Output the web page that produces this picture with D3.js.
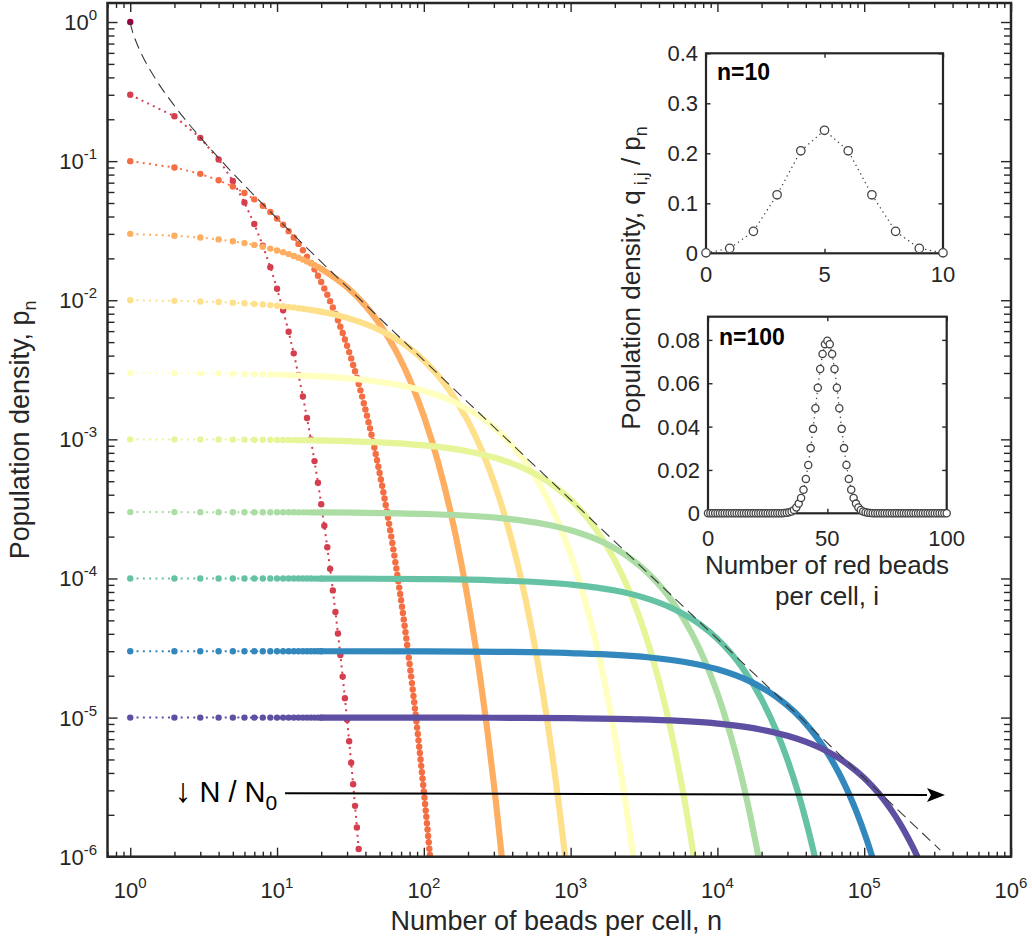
<!DOCTYPE html>
<html>
<head>
<meta charset="utf-8">
<script src="https://cdn.jsdelivr.net/npm/d3@7"></script>
<style>
  html, body { margin: 0; padding: 0; background: #fff; }
  svg { display: block; font-family: "Liberation Sans", Arial, Helvetica, sans-serif; }
</style>
</head>
<body>
<svg id="chart" width="1032" height="943"></svg>
<script>
// ---------------------------------------------------------------
// Geometric size distributions p_n for a series of starting
// densities N/N0, with two binomial colour-split insets.
// ---------------------------------------------------------------

// p_n at n = 1, 2, 3, ... (individual beads)
const beads1    = [1];
const beads3em1 = [0.3, 0.21, 0.147, 0.1029, 0.07203, 0.05042, 0.03529, 0.02471, 0.01729, 0.01211,
  0.008474, 0.005932, 0.004152, 0.002907, 0.002035, 0.001424, 9.970e-4, 6.979e-4, 4.885e-4, 3.420e-4,
  2.394e-4, 1.676e-4, 1.173e-4, 8.211e-5, 5.748e-5, 4.023e-5, 2.816e-5, 1.971e-5, 1.380e-5, 9.661e-6,
  6.763e-6, 4.734e-6, 3.314e-6, 2.320e-6, 1.624e-6, 1.137e-6];
const beads1em1 = [0.1, 0.09, 0.081, 0.0729, 0.06561, 0.05905, 0.05314, 0.04783, 0.04305, 0.03874,
  0.03487, 0.03138, 0.02824, 0.02542, 0.02288, 0.02059, 0.01853, 0.01668, 0.01501, 0.01351,
  0.01216, 0.01094, 0.00985, 0.00886, 0.00798, 0.00718, 0.00646, 0.00581, 0.00523, 0.00471,
  0.00424, 0.00382, 0.00343, 0.00309, 0.00278, 0.00250, 0.00225, 0.00203, 0.00182, 0.00164,
  0.00148, 0.00133, 0.00120, 0.00108, 9.70e-4, 8.73e-4, 7.86e-4, 7.07e-4, 6.36e-4, 5.73e-4,
  5.15e-4, 4.64e-4, 4.17e-4, 3.76e-4, 3.38e-4, 3.04e-4, 2.74e-4, 2.47e-4, 2.22e-4, 2.00e-4,
  1.80e-4, 1.62e-4, 1.46e-4, 1.31e-4, 1.18e-4, 1.06e-4, 9.56e-5, 8.60e-5, 7.74e-5, 6.97e-5,
  6.27e-5, 5.64e-5, 5.08e-5, 4.57e-5, 4.11e-5, 3.70e-5, 3.33e-5, 3.00e-5, 2.70e-5, 2.43e-5,
  2.18e-5, 1.97e-5, 1.77e-5, 1.59e-5, 1.43e-5, 1.29e-5, 1.16e-5, 1.05e-5, 9.41e-6, 8.47e-6,
  7.62e-6, 6.86e-6, 6.17e-6, 5.56e-6, 5.00e-6, 4.50e-6, 4.05e-6, 3.65e-6, 3.28e-6, 2.95e-6,
  2.66e-6, 2.39e-6, 2.15e-6, 1.94e-6, 1.74e-6, 1.57e-6, 1.41e-6, 1.27e-6, 1.14e-6, 1.03e-6];
const beads3em2 = [0.03, 0.0291, 0.02823, 0.02738, 0.02656, 0.02576, 0.02499, 0.02424, 0.02351, 0.02281,
  0.02212, 0.02146, 0.02082, 0.02019, 0.01959, 0.01900, 0.01843, 0.01788, 0.01734, 0.01682];
const beads1em2 = [0.01, 0.0099, 0.009801, 0.009703, 0.009606, 0.00951, 0.009415, 0.009321, 0.009227, 0.009135,
  0.009044, 0.008953, 0.008864, 0.008775, 0.008687, 0.0086, 0.008515, 0.00843, 0.008345, 0.008262];
const beads3em3 = [0.003, 0.002991, 0.002982, 0.002973, 0.002964, 0.002955, 0.002946, 0.002937, 0.002929, 0.00292,
  0.002911, 0.002902, 0.002894, 0.002885, 0.002876, 0.002868, 0.002859, 0.002851, 0.002842, 0.002834];
const beads1em3 = [1.000e-3, 9.99e-4, 9.98e-4, 9.97e-4, 9.96e-4, 9.95e-4, 9.94e-4, 9.93e-4, 9.92e-4, 9.91e-4,
  9.90e-4, 9.89e-4, 9.88e-4, 9.87e-4, 9.86e-4, 9.85e-4, 9.84e-4, 9.83e-4, 9.82e-4, 9.81e-4];
const beads3em4 = [3.000e-4, 2.999e-4, 2.998e-4, 2.997e-4, 2.996e-4, 2.996e-4, 2.995e-4, 2.994e-4, 2.993e-4, 2.992e-4,
  2.991e-4, 2.990e-4, 2.989e-4, 2.988e-4, 2.987e-4, 2.987e-4, 2.986e-4, 2.985e-4, 2.984e-4, 2.983e-4];
const beads1em4 = [1.000e-4, 9.999e-5, 9.998e-5, 9.997e-5, 9.996e-5, 9.995e-5, 9.994e-5, 9.993e-5, 9.992e-5, 9.991e-5,
  9.990e-5, 9.989e-5, 9.988e-5, 9.987e-5, 9.986e-5, 9.985e-5, 9.984e-5, 9.983e-5, 9.982e-5, 9.981e-5];
const beads3em5 = [3.000e-5, 3.000e-5, 3.000e-5, 2.999e-5, 2.999e-5, 2.999e-5, 2.999e-5, 2.999e-5, 2.999e-5, 2.999e-5,
  2.999e-5, 2.999e-5, 2.999e-5, 2.999e-5, 2.999e-5, 2.998e-5, 2.998e-5, 2.998e-5, 2.998e-5, 2.998e-5];
const beads1em5 = [1e-5, 1e-5, 1e-5, 1e-5, 1e-5, 1e-5, 1e-5, 1e-5, 1e-5, 1e-5,
  1e-5, 1e-5, 1e-5, 1e-5, 1e-5, 1e-5, 1e-5, 1e-5, 1e-5, 1e-5];

// Dense part of each distribution, where the beads merge into a band: [n, p_n]
const tail3em2 = [[20, 0.01682], [30, 0.01240], [40, 0.009146], [50, 0.006744], [65, 0.004271], [80, 0.002705],
  [100, 0.001471], [125, 6.868e-4], [150, 3.207e-4], [180, 1.286e-4], [210, 5.157e-5], [240, 2.068e-5],
  [270, 8.293e-6], [300, 3.326e-6], [320, 1.809e-6], [339, 1.014e-6]];
const tail1em2 = [[20, 0.008262], [30.85, 0.007408], [50.75, 0.006065], [75.6, 0.004724], [100.5, 0.003679],
  [150.3, 0.002231], [200, 0.001353], [249.8, 8.209e-4], [299.5, 4.979e-4], [349.3, 3.020e-4], [399, 1.832e-4],
  [448.8, 1.111e-4], [498.5, 6.738e-5], [548.3, 4.087e-5], [598, 2.479e-5], [647.8, 1.503e-5], [697.5, 9.119e-6],
  [747.3, 5.531e-6], [797, 3.355e-6], [846.8, 2.035e-6], [896.5, 1.234e-6], [917, 1.004e-6]];
const tail3em3 = [[20, 0.002834], [34.3, 0.002715], [67.6, 0.002456], [100.9, 0.002223], [167.4, 0.001820],
  [250.6, 0.001417], [333.8, 0.001104], [500.2, 6.694e-4], [666.7, 4.060e-4], [833.1, 2.463e-4], [999.5, 1.494e-4],
  [1166, 9.059e-5], [1332, 5.495e-5], [1499, 3.333e-5], [1665, 2.021e-5], [1832, 1.226e-5], [1998, 7.436e-6],
  [2164, 4.510e-6], [2331, 2.736e-6], [2497, 1.659e-6], [2664, 1.006e-6]];
const tail1em3 = [[20, 9.812e-4], [31, 9.705e-4], [101, 9.048e-4], [200.9, 8.187e-4], [300.9, 7.408e-4],
  [500.8, 6.065e-4], [750.6, 4.724e-4], [1000.5, 3.679e-4], [1500, 2.231e-4], [2000, 1.353e-4], [2500, 8.209e-5],
  [3000, 4.979e-5], [3499, 3.020e-5], [3999, 1.832e-5], [4499, 1.111e-5], [4999, 6.738e-6], [5498, 4.087e-6],
  [5998, 2.479e-6], [6498, 1.503e-6], [6897, 1.008e-6]];
const tail3em4 = [[20, 2.983e-4], [34.3, 2.970e-4], [101, 2.911e-4], [334.3, 2.715e-4], [667.6, 2.456e-4],
  [1001, 2.223e-4], [1667, 1.820e-4], [2501, 1.417e-4], [3334, 1.104e-4], [5000, 6.694e-5], [6667, 4.060e-5],
  [8333, 2.463e-5], [9999, 1.494e-5], [11666, 9.059e-6], [13332, 5.495e-6], [14999, 3.333e-6], [16665, 2.021e-6],
  [18331, 1.226e-6], [18998, 1.004e-6]];
const tail1em4 = [[20, 9.981e-5], [31, 9.970e-5], [101, 9.900e-5], [301, 9.704e-5], [1001, 9.048e-5],
  [2001, 8.187e-5], [3001, 7.408e-5], [5001, 6.065e-5], [7501, 4.724e-5], [10000, 3.679e-5], [15000, 2.231e-5],
  [20000, 1.353e-5], [25000, 8.209e-6], [29999, 4.979e-6], [34999, 3.020e-6], [39999, 1.832e-6], [44999, 1.111e-6],
  [45999, 1.005e-6]];
const tail3em5 = [[20, 2.998e-5], [101, 2.991e-5], [334, 2.970e-5], [1001, 2.911e-5], [3334, 2.715e-5],
  [6668, 2.456e-5], [10001, 2.223e-5], [16667, 1.820e-5], [25001, 1.417e-5], [33334, 1.104e-5], [41667, 8.595e-6],
  [50000, 6.694e-6], [58334, 5.213e-6], [66667, 4.060e-6], [75000, 3.162e-6], [83333, 2.463e-6], [91666, 1.918e-6],
  [99999, 1.494e-6], [106666, 1.223e-6], [113332, 1.001e-6]];
const tail1em5 = [[20, 1e-5], [101, 9.990e-6], [301, 9.970e-6], [1001, 9.900e-6], [3001, 9.704e-6],
  [10001, 9.048e-6], [20001, 8.187e-6], [30001, 7.408e-6], [50001, 6.065e-6], [75001, 4.724e-6], [100000, 3.679e-6],
  [125000, 2.865e-6], [150000, 2.231e-6], [175000, 1.738e-6], [200000, 1.353e-6], [215000, 1.165e-6],
  [230000, 1.003e-6]];

// Upper envelope of all distributions: [n, p_n]
const envelope = [[1, 1], [1.02, 0.9062], [1.05, 0.8179], [1.1, 0.7153], [1.2, 0.5823], [1.5, 0.3849], [2, 0.25],
  [3, 0.1481], [4, 0.1055], [5, 0.08192], [7, 0.05665], [10, 0.03874], [15, 0.02538], [20, 0.01887],
  [30, 0.01247], [50, 0.007432], [100, 0.003697], [1000, 3.681e-4], [10000, 3.679e-5], [100000, 3.679e-6],
  [330000, 1.115e-6]];

// Inset distributions q_{i,j}/p_n over the number of red beads i
const insetSmallI = [0, 1, 2, 3, 4, 5, 6, 7, 8, 9, 10];
const insetSmallQ = [0.000977, 0.00977, 0.0439, 0.117, 0.205, 0.246, 0.205, 0.117, 0.0439, 0.00977, 0.000977];
const insetLargeQ = [0, 0, 0, 0, 0, 0, 0, 0, 0, 0,
  0, 0, 0, 0, 0, 0, 0, 0, 0, 0,
  0, 0, 0, 0, 0, 0, 0, 0, 0, 0,
  2.317e-5, 5.232e-5, 1.128e-4, 2.325e-4, 4.581e-4, 8.639e-4, 0.001560, 0.002698, 0.004473, 0.007111,
  0.01084, 0.01587, 0.02229, 0.03007, 0.03895, 0.04847, 0.05796, 0.06659, 0.07353, 0.07803,
  0.07959,
  0.07803, 0.07353, 0.06659, 0.05796, 0.04847, 0.03895, 0.03007, 0.02229, 0.01587, 0.01084,
  0.007111, 0.004473, 0.002698, 0.001560, 8.639e-4, 4.581e-4, 2.325e-4, 1.128e-4, 5.232e-5, 2.317e-5,
  0, 0, 0, 0, 0, 0, 0, 0, 0, 0,
  0, 0, 0, 0, 0, 0, 0, 0, 0, 0,
  0, 0, 0, 0, 0, 0, 0, 0, 0, 0];

// Tick values
const mainXDecades = [1, 10, 100, 1000, 10000, 100000, 1000000];
const mainYDecades = [1, 1e-1, 1e-2, 1e-3, 1e-4, 1e-5, 1e-6];
const insetSmallXTicks = [0, 5, 10];
const insetSmallYTicks = [0, 0.1, 0.2, 0.3, 0.4];
const insetLargeXTicks = [0, 50, 100];
const insetLargeYTicks = [0, 0.02, 0.04, 0.06, 0.08];

// ---------------------------------------------------------------
const INK = "#262626";
const svg = d3.select("#chart");

const series = [
  { beads: beads1,    tail: [] },
  { beads: beads3em1, tail: [] },
  { beads: beads1em1, tail: [] },
  { beads: beads3em2, tail: tail3em2 },
  { beads: beads1em2, tail: tail1em2 },
  { beads: beads3em3, tail: tail3em3 },
  { beads: beads1em3, tail: tail1em3 },
  { beads: beads3em4, tail: tail3em4 },
  { beads: beads1em4, tail: tail1em4 },
  { beads: beads3em5, tail: tail3em5 },
  { beads: beads1em5, tail: tail1em5 }
];
const palette = d3.schemeSpectral[11];

// Main panel
const P = { left: 107.5, right: 1011, top: 3, bottom: 856.7 };
const x = d3.scaleLog().domain([0.7, 1e6]).range([P.left, P.right]);
const y = d3.scaleLog().domain([1e-6, 1.37]).range([P.bottom, P.top]);

svg.append("defs").append("clipPath").attr("id", "mainClip")
  .append("rect").attr("x", P.left).attr("y", P.top)
  .attr("width", P.right - P.left).attr("height", P.bottom - P.top);

const plot = svg.append("g").attr("clip-path", "url(#mainClip)");

const straight = d3.line().x(d => x(d[0])).y(d => y(d[1]));
const smooth = d3.line().x(d => x(d[0])).y(d => y(d[1])).curve(d3.curveMonotoneX);

series.forEach((s, i) => {
  const c = palette[i];
  const g = plot.append("g");
  const beadPts = s.beads.map((v, k) => [k + 1, v]);
  if (beadPts.length > 1) {
    g.append("path").attr("d", straight(beadPts))
      .attr("fill", "none").attr("stroke", c).attr("stroke-width", 2)
      .attr("stroke-dasharray", "2,4.3");
  }
  if (s.tail.length) {
    g.append("path").attr("d", smooth(s.tail))
      .attr("fill", "none").attr("stroke", c).attr("stroke-width", 6.2)
      .attr("stroke-linecap", "round").attr("stroke-linejoin", "round");
  }
  g.selectAll("circle").data(beadPts).join("circle")
    .attr("cx", d => x(d[0])).attr("cy", d => y(d[1])).attr("r", 3.2)
    .attr("fill", c);
});

// envelope
plot.append("path").attr("d", smooth(envelope))
  .attr("fill", "none").attr("stroke", "#3a3a3a").attr("stroke-width", 1.1)
  .attr("stroke-dasharray", "11,6");

// ticks (inward, on all four sides)
function logTickSets(scale) {
  const all = scale.ticks().filter(v => v >= scale.domain()[0] * 0.999 && v <= scale.domain()[1] * 1.001);
  const isMajor = v => Math.abs(Math.log10(v) - Math.round(Math.log10(v))) < 1e-9;
  return { major: all.filter(isMajor), minor: all.filter(v => !isMajor(v)) };
}
function styleTicks(g) {
  g.select(".domain").remove();
  g.selectAll("line").attr("stroke", INK).attr("stroke-width", 1.4);
  g.selectAll("text").remove();
}
const xt = logTickSets(x), yt = logTickSets(y);
[[xt.major, 9], [xt.minor, 5]].forEach(([vals, len]) => {
  svg.append("g").attr("transform", `translate(0,${P.bottom})`)
    .call(d3.axisBottom(x).tickValues(vals).tickSizeInner(-len).tickSizeOuter(0)).call(styleTicks);
  svg.append("g").attr("transform", `translate(0,${P.top})`)
    .call(d3.axisTop(x).tickValues(vals).tickSizeInner(-len).tickSizeOuter(0)).call(styleTicks);
});
[[yt.major, 10], [yt.minor, 7]].forEach(([vals, len]) => {
  svg.append("g").attr("transform", `translate(${P.left},0)`)
    .call(d3.axisLeft(y).tickValues(vals).tickSizeInner(-len).tickSizeOuter(0)).call(styleTicks);
  svg.append("g").attr("transform", `translate(${P.right},0)`)
    .call(d3.axisRight(y).tickValues(vals).tickSizeInner(-len).tickSizeOuter(0)).call(styleTicks);
});

svg.append("rect").attr("x", P.left).attr("y", P.top)
  .attr("width", P.right - P.left).attr("height", P.bottom - P.top)
  .attr("fill", "none").attr("stroke", INK).attr("stroke-width", 2.5);

// tick labels as powers of ten
function powerLabel(sel, exp) {
  sel.append("tspan").text("10");
  sel.append("tspan").attr("dy", -10).attr("font-size", 15).text(String(exp));
}
mainXDecades.forEach(v => {
  const t = svg.append("text").attr("x", x(v)).attr("y", 898)
    .attr("text-anchor", "middle").attr("font-size", 22).attr("fill", INK);
  powerLabel(t, Math.round(Math.log10(v)));
});
mainYDecades.forEach(v => {
  const t = svg.append("text").attr("x", 97).attr("y", y(v) + 8)
    .attr("text-anchor", "end").attr("font-size", 22).attr("fill", INK);
  powerLabel(t, Math.round(Math.log10(v)));
});

// axis titles
svg.append("text").attr("x", (P.left + P.right) / 2 - 3).attr("y", 930)
  .attr("text-anchor", "middle").attr("font-size", 27).attr("fill", INK)
  .text("Number of beads per cell, n");
const yTitle = svg.append("text")
  .attr("transform", `translate(29,${(P.top + P.bottom) / 2}) rotate(-90)`)
  .attr("text-anchor", "middle").attr("font-size", 27).attr("fill", INK);
yTitle.append("tspan").text("Population density, p");
yTitle.append("tspan").attr("dy", 7).attr("font-size", 18).text("n");

// N/N0 direction arrow
const arrowFrom = [11.34, 2.864e-6], arrowTo = [3.55e5, 2.773e-6];
const ax0 = x(arrowFrom[0]), ay0 = y(arrowFrom[1]), ax1 = x(arrowTo[0]), ay1 = y(arrowTo[1]);
const ang = Math.atan2(ay1 - ay0, ax1 - ax0);
const headL = 18, headW = 7;
const bx = ax1 - headL * Math.cos(ang), by = ay1 - headL * Math.sin(ang);
svg.append("line").attr("x1", ax0).attr("y1", ay0).attr("x2", bx).attr("y2", by)
  .attr("stroke", "#000").attr("stroke-width", 2);
svg.append("polygon")
  .attr("points", [
    [ax1, ay1],
    [bx + headW * Math.sin(ang), by - headW * Math.cos(ang)],
    [bx + 4 * Math.cos(ang), by + 4 * Math.sin(ang)],
    [bx - headW * Math.sin(ang), by + headW * Math.cos(ang)]
  ].map(p => p.join(",")).join(" "))
  .attr("fill", "#000");
const arrowText = svg.append("text").attr("x", x(2.0)).attr("y", y(2.47e-6))
  .attr("font-size", 29).attr("fill", "#000");
arrowText.append("tspan").attr("font-size", 34).text("\u2193");
arrowText.append("tspan").text(" N / N");
arrowText.append("tspan").attr("dy", 8).attr("font-size", 21).text("0");

// ---------------------------------------------------------------
// Insets
function drawInset(opts) {
  const { xs, ys, xTicks, yTicks, xi, qv, r, label, labelY, xLabelY, yFmt } = opts;
  const [l, rr] = xs.range(), [b, t] = ys.range();
  svg.append("rect").attr("x", l).attr("y", t).attr("width", rr - l).attr("height", b - t)
    .attr("fill", "#fff");
  const g = svg.append("g");
  const pts = qv.map((v, k) => [xi[k], v]);
  g.append("path").attr("d", d3.line().x(d => xs(d[0])).y(d => ys(d[1]))(pts))
    .attr("fill", "none").attr("stroke", "#444").attr("stroke-width", 1.3)
    .attr("stroke-dasharray", "1.3,3.6");
  const tick = (axis, tr) => svg.append("g").attr("transform", tr)
    .call(axis.tickSizeInner(-4.5).tickSizeOuter(0)).call(styleTicks);
  tick(d3.axisBottom(xs).tickValues(xTicks), `translate(0,${b})`);
  tick(d3.axisTop(xs).tickValues(xTicks), `translate(0,${t})`);
  tick(d3.axisLeft(ys).tickValues(yTicks), `translate(${l},0)`);
  tick(d3.axisRight(ys).tickValues(yTicks), `translate(${rr},0)`);
  svg.append("rect").attr("x", l).attr("y", t).attr("width", rr - l).attr("height", b - t)
    .attr("fill", "none").attr("stroke", INK).attr("stroke-width", 2.2);
  g.raise();
  g.selectAll("circle").data(pts).join("circle")
    .attr("cx", d => xs(d[0])).attr("cy", d => ys(d[1])).attr("r", r)
    .attr("fill", "#fff").attr("stroke", "#444").attr("stroke-width", 1.3);
  xTicks.forEach(v => svg.append("text").attr("x", xs(v)).attr("y", xLabelY)
    .attr("text-anchor", "middle").attr("font-size", 22).attr("fill", INK).text(v));
  yTicks.forEach(v => svg.append("text").attr("x", l - 8).attr("y", ys(v) + 8)
    .attr("text-anchor", "end").attr("font-size", 22).attr("fill", INK).text(yFmt(v)));
  svg.append("text").attr("x", l + 11).attr("y", labelY)
    .attr("font-size", 23).attr("font-weight", "bold").attr("fill", "#000").text(label);
}

drawInset({
  xs: d3.scaleLinear().domain([0, 10]).range([706, 943]),
  ys: d3.scaleLinear().domain([0, 0.4]).range([253.3, 53.3]),
  xTicks: insetSmallXTicks, yTicks: insetSmallYTicks,
  xi: insetSmallI, qv: insetSmallQ, r: 4.2,
  label: "n=10", labelY: 80, xLabelY: 282,
  yFmt: v => v === 0 ? "0" : d3.format(".1f")(v)
});
drawInset({
  xs: d3.scaleLinear().domain([0, 100]).range([708, 946.7]),
  ys: d3.scaleLinear().domain([0, 0.0907]).range([513.3, 316.7]),
  xTicks: insetLargeXTicks, yTicks: insetLargeYTicks,
  xi: d3.range(insetLargeQ.length), qv: insetLargeQ, r: 3.6,
  label: "n=100", labelY: 345, xLabelY: 546,
  yFmt: v => v === 0 ? "0" : d3.format(".2f")(v)
});

// inset axis titles
const iy = svg.append("text")
  .attr("transform", "translate(640,278) rotate(-90)")
  .attr("text-anchor", "middle").attr("font-size", 26).attr("fill", INK);
iy.append("tspan").text("Population density, q");
iy.append("tspan").attr("dy", 7).attr("font-size", 18).text(" i,j");
iy.append("tspan").attr("dy", -7).text(" / p");
iy.append("tspan").attr("dy", 7).attr("font-size", 18).text("n");

svg.append("text").attr("x", 827).attr("y", 574).attr("text-anchor", "middle")
  .attr("font-size", 26).attr("fill", INK).text("Number of red beads");
svg.append("text").attr("x", 827).attr("y", 605).attr("text-anchor", "middle")
  .attr("font-size", 26).attr("fill", INK).text("per cell, i");
</script>
</body>
</html>
